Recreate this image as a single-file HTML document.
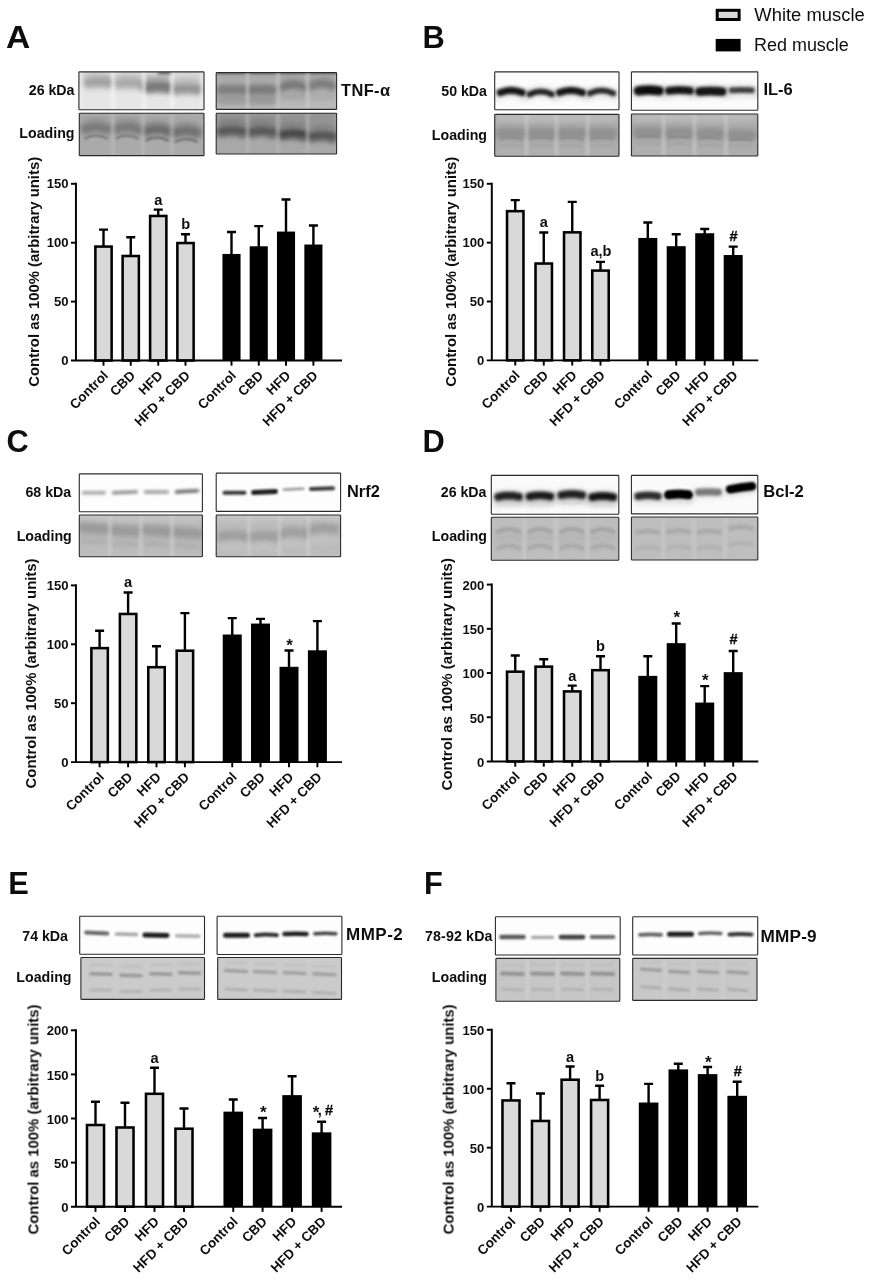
<!DOCTYPE html>
<html lang="en"><head><meta charset="utf-8"><title>Figure</title>
<style>
html,body{margin:0;padding:0;background:#fff}
body{width:871px;height:1283px;overflow:hidden}
svg{display:block}
svg text{font-family:'Liberation Sans', sans-serif;fill:#111}
</style></head><body>
<svg width="871" height="1283" viewBox="0 0 871 1283">
<defs>
<filter id="b1" filterUnits="userSpaceOnUse" x="0" y="0" width="871" height="1283"><feGaussianBlur stdDeviation="1"/></filter>
<filter id="b2" filterUnits="userSpaceOnUse" x="0" y="0" width="871" height="1283"><feGaussianBlur stdDeviation="1.6"/></filter>
<filter id="b3" filterUnits="userSpaceOnUse" x="0" y="0" width="871" height="1283"><feGaussianBlur stdDeviation="2.4"/></filter>
<filter id="b4" filterUnits="userSpaceOnUse" x="0" y="0" width="871" height="1283"><feGaussianBlur stdDeviation="3.5"/></filter>
<filter id="soft"><feGaussianBlur stdDeviation="0.6"/></filter>
</defs>
<rect width="871" height="1283" fill="#fff"/>
<g filter="url(#soft)">
<text transform="translate(6.0 47.6) scale(1.09 1)" font-size="30.8" font-weight="bold" fill="#000">A</text>
<text x="422.5" y="47.6" font-size="30.8" font-weight="bold" fill="#000">B</text>
<text x="6.6" y="451.5" font-size="30.8" font-weight="bold" fill="#000">C</text>
<text x="422.5" y="451.5" font-size="30.8" font-weight="bold" fill="#000">D</text>
<text x="8.25" y="894.2" font-size="30.8" font-weight="bold" fill="#000">E</text>
<text x="424.0" y="894.2" font-size="30.8" font-weight="bold" fill="#000">F</text>
<rect x="717.2" y="10.3" width="21.9" height="9.2" fill="#d9d9d9" stroke="#000" stroke-width="3"/>
<rect x="715.7" y="38.9" width="24.9" height="12.5" fill="#000"/>
<text x="754.3" y="21.3" font-size="18.3" textLength="110.4" lengthAdjust="spacingAndGlyphs">White muscle</text>
<text x="754.0" y="51.3" font-size="18.3" textLength="94.8" lengthAdjust="spacingAndGlyphs">Red muscle</text>
<path d="M103.50 246.58V229.61M99.00 229.61H108.00" stroke="#000" stroke-width="2.4" fill="none"/>
<rect x="95.38" y="246.58" width="16.25" height="113.92" fill="#d9d9d9" stroke="#000" stroke-width="2.55"/>
<path d="M103.50 360.50v5.2" stroke="#000" stroke-width="1.95"/>
<path d="M130.75 256.00V237.27M126.25 237.27H135.25" stroke="#000" stroke-width="2.4" fill="none"/>
<rect x="122.62" y="256.00" width="16.25" height="104.50" fill="#d9d9d9" stroke="#000" stroke-width="2.55"/>
<path d="M130.75 360.50v5.2" stroke="#000" stroke-width="1.95"/>
<path d="M158.25 215.95V209.59M153.75 209.59H162.75" stroke="#000" stroke-width="2.4" fill="none"/>
<rect x="150.12" y="215.95" width="16.25" height="144.55" fill="#d9d9d9" stroke="#000" stroke-width="2.55"/>
<path d="M158.25 360.50v5.2" stroke="#000" stroke-width="1.95"/>
<path d="M185.50 243.04V234.32M181.00 234.32H190.00" stroke="#000" stroke-width="2.4" fill="none"/>
<rect x="177.38" y="243.04" width="16.25" height="117.46" fill="#d9d9d9" stroke="#000" stroke-width="2.55"/>
<path d="M185.50 360.50v5.2" stroke="#000" stroke-width="1.95"/>
<path d="M231.50 254.82V231.97M227.00 231.97H236.00" stroke="#000" stroke-width="2.4" fill="none"/>
<rect x="222.45" y="253.95" width="18.10" height="106.55" fill="#000"/>
<path d="M231.50 360.50v5.2" stroke="#000" stroke-width="1.95"/>
<path d="M258.75 247.17V226.08M254.25 226.08H263.25" stroke="#000" stroke-width="2.4" fill="none"/>
<rect x="249.70" y="246.29" width="18.10" height="114.21" fill="#000"/>
<path d="M258.75 360.50v5.2" stroke="#000" stroke-width="1.95"/>
<path d="M286.00 232.44V199.57M281.50 199.57H290.50" stroke="#000" stroke-width="2.4" fill="none"/>
<rect x="276.95" y="231.57" width="18.10" height="128.93" fill="#000"/>
<path d="M286.00 360.50v5.2" stroke="#000" stroke-width="1.95"/>
<path d="M313.40 245.40V225.49M308.90 225.49H317.90" stroke="#000" stroke-width="2.4" fill="none"/>
<rect x="304.35" y="244.53" width="18.10" height="115.97" fill="#000"/>
<path d="M313.40 360.50v5.2" stroke="#000" stroke-width="1.95"/>
<path d="M75.95 182.72V360.50M70.95 360.50H342.00" stroke="#000" stroke-width="1.95" fill="none"/>
<text x="68.55" y="364.80" text-anchor="end" font-size="13.1" font-weight="bold">0</text>
<path d="M70.95 301.60H75.95" stroke="#000" stroke-width="1.95"/>
<text x="68.55" y="305.90" text-anchor="end" font-size="13.1" font-weight="bold">50</text>
<path d="M70.95 242.70H75.95" stroke="#000" stroke-width="1.95"/>
<text x="68.55" y="247.00" text-anchor="end" font-size="13.1" font-weight="bold">100</text>
<path d="M70.95 183.80H75.95" stroke="#000" stroke-width="1.95"/>
<text x="68.55" y="188.10" text-anchor="end" font-size="13.1" font-weight="bold">150</text>
<text transform="translate(38.80 271.85) rotate(-90)" text-anchor="middle" font-size="14.9" font-weight="bold">Control as 100% (arbitrary units)</text>
<text transform="translate(108.80 376.30) rotate(-45)" text-anchor="end" font-size="13.4" font-weight="bold">Control</text>
<text transform="translate(136.05 376.30) rotate(-45)" text-anchor="end" font-size="13.4" font-weight="bold">CBD</text>
<text transform="translate(163.55 376.30) rotate(-45)" text-anchor="end" font-size="13.4" font-weight="bold">HFD</text>
<text transform="translate(190.80 376.30) rotate(-45)" text-anchor="end" font-size="13.4" font-weight="bold">HFD + CBD</text>
<text transform="translate(236.80 376.30) rotate(-45)" text-anchor="end" font-size="13.4" font-weight="bold">Control</text>
<text transform="translate(264.05 376.30) rotate(-45)" text-anchor="end" font-size="13.4" font-weight="bold">CBD</text>
<text transform="translate(291.30 376.30) rotate(-45)" text-anchor="end" font-size="13.4" font-weight="bold">HFD</text>
<text transform="translate(318.70 376.30) rotate(-45)" text-anchor="end" font-size="13.4" font-weight="bold">HFD + CBD</text>
<text x="158.25" y="205.20" text-anchor="middle" font-size="14.6" font-weight="bold">a</text>
<text x="185.80" y="229.00" text-anchor="middle" font-size="14.6" font-weight="bold">b</text>
<path d="M515.25 211.16V200.09M510.75 200.09H519.75" stroke="#000" stroke-width="2.4" fill="none"/>
<rect x="507.02" y="211.16" width="16.45" height="149.19" fill="#d9d9d9" stroke="#000" stroke-width="2.55"/>
<path d="M515.25 360.35v5.2" stroke="#000" stroke-width="1.95"/>
<path d="M543.75 263.53V232.46M539.25 232.46H548.25" stroke="#000" stroke-width="2.4" fill="none"/>
<rect x="535.52" y="263.53" width="16.45" height="96.82" fill="#d9d9d9" stroke="#000" stroke-width="2.55"/>
<path d="M543.75 360.35v5.2" stroke="#000" stroke-width="1.95"/>
<path d="M572.25 232.34V201.86M567.75 201.86H576.75" stroke="#000" stroke-width="2.4" fill="none"/>
<rect x="564.02" y="232.34" width="16.45" height="128.01" fill="#d9d9d9" stroke="#000" stroke-width="2.55"/>
<path d="M572.25 360.35v5.2" stroke="#000" stroke-width="1.95"/>
<path d="M600.50 270.60V261.88M596.00 261.88H605.00" stroke="#000" stroke-width="2.4" fill="none"/>
<rect x="592.27" y="270.60" width="16.45" height="89.75" fill="#d9d9d9" stroke="#000" stroke-width="2.55"/>
<path d="M600.50 360.35v5.2" stroke="#000" stroke-width="1.95"/>
<path d="M647.80 238.82V222.45M643.30 222.45H652.30" stroke="#000" stroke-width="2.4" fill="none"/>
<rect x="638.30" y="237.94" width="19.00" height="122.41" fill="#000"/>
<path d="M647.80 360.35v5.2" stroke="#000" stroke-width="1.95"/>
<path d="M676.20 247.06V234.22M671.70 234.22H680.70" stroke="#000" stroke-width="2.4" fill="none"/>
<rect x="666.70" y="246.18" width="19.00" height="114.17" fill="#000"/>
<path d="M676.20 360.35v5.2" stroke="#000" stroke-width="1.95"/>
<path d="M704.70 234.11V228.93M700.20 228.93H709.20" stroke="#000" stroke-width="2.4" fill="none"/>
<rect x="695.20" y="233.23" width="19.00" height="127.12" fill="#000"/>
<path d="M704.70 360.35v5.2" stroke="#000" stroke-width="1.95"/>
<path d="M733.20 255.88V246.58M728.70 246.58H737.70" stroke="#000" stroke-width="2.4" fill="none"/>
<rect x="723.70" y="255.01" width="19.00" height="105.34" fill="#000"/>
<path d="M733.20 360.35v5.2" stroke="#000" stroke-width="1.95"/>
<path d="M491.80 182.72V360.35M486.80 360.35H758.30" stroke="#000" stroke-width="1.95" fill="none"/>
<text x="484.40" y="364.65" text-anchor="end" font-size="13.1" font-weight="bold">0</text>
<path d="M486.80 301.50H491.80" stroke="#000" stroke-width="1.95"/>
<text x="484.40" y="305.80" text-anchor="end" font-size="13.1" font-weight="bold">50</text>
<path d="M486.80 242.65H491.80" stroke="#000" stroke-width="1.95"/>
<text x="484.40" y="246.95" text-anchor="end" font-size="13.1" font-weight="bold">100</text>
<path d="M486.80 183.80H491.80" stroke="#000" stroke-width="1.95"/>
<text x="484.40" y="188.10" text-anchor="end" font-size="13.1" font-weight="bold">150</text>
<text transform="translate(455.50 271.78) rotate(-90)" text-anchor="middle" font-size="14.9" font-weight="bold">Control as 100% (arbitrary units)</text>
<text transform="translate(520.55 376.15) rotate(-45)" text-anchor="end" font-size="13.4" font-weight="bold">Control</text>
<text transform="translate(549.05 376.15) rotate(-45)" text-anchor="end" font-size="13.4" font-weight="bold">CBD</text>
<text transform="translate(577.55 376.15) rotate(-45)" text-anchor="end" font-size="13.4" font-weight="bold">HFD</text>
<text transform="translate(605.80 376.15) rotate(-45)" text-anchor="end" font-size="13.4" font-weight="bold">HFD + CBD</text>
<text transform="translate(653.10 376.15) rotate(-45)" text-anchor="end" font-size="13.4" font-weight="bold">Control</text>
<text transform="translate(681.50 376.15) rotate(-45)" text-anchor="end" font-size="13.4" font-weight="bold">CBD</text>
<text transform="translate(710.00 376.15) rotate(-45)" text-anchor="end" font-size="13.4" font-weight="bold">HFD</text>
<text transform="translate(738.50 376.15) rotate(-45)" text-anchor="end" font-size="13.4" font-weight="bold">HFD + CBD</text>
<text x="543.75" y="227.00" text-anchor="middle" font-size="14.6" font-weight="bold">a</text>
<text x="601.00" y="255.50" text-anchor="middle" font-size="14.6" font-weight="bold">a,b</text>
<text x="733.50" y="240.90" text-anchor="middle" font-size="14.6" font-weight="bold" stroke="#111" stroke-width="0.35">#</text>
<path d="M99.60 648.12V630.80M95.10 630.80H104.10" stroke="#000" stroke-width="2.4" fill="none"/>
<rect x="91.38" y="648.12" width="16.45" height="113.98" fill="#d9d9d9" stroke="#000" stroke-width="2.55"/>
<path d="M99.60 762.10v5.2" stroke="#000" stroke-width="1.95"/>
<path d="M128.10 613.96V592.51M123.60 592.51H132.60" stroke="#000" stroke-width="2.4" fill="none"/>
<rect x="119.88" y="613.96" width="16.45" height="148.14" fill="#d9d9d9" stroke="#000" stroke-width="2.55"/>
<path d="M128.10 762.10v5.2" stroke="#000" stroke-width="1.95"/>
<path d="M156.50 667.20V646.23M152.00 646.23H161.00" stroke="#000" stroke-width="2.4" fill="none"/>
<rect x="148.28" y="667.20" width="16.45" height="94.90" fill="#d9d9d9" stroke="#000" stroke-width="2.55"/>
<path d="M156.50 762.10v5.2" stroke="#000" stroke-width="1.95"/>
<path d="M184.90 650.71V613.13M180.40 613.13H189.40" stroke="#000" stroke-width="2.4" fill="none"/>
<rect x="176.68" y="650.71" width="16.45" height="111.39" fill="#d9d9d9" stroke="#000" stroke-width="2.55"/>
<path d="M184.90 762.10v5.2" stroke="#000" stroke-width="1.95"/>
<path d="M232.25 635.40V618.08M227.75 618.08H236.75" stroke="#000" stroke-width="2.4" fill="none"/>
<rect x="222.75" y="634.52" width="19.00" height="127.58" fill="#000"/>
<path d="M232.25 762.10v5.2" stroke="#000" stroke-width="1.95"/>
<path d="M260.50 624.44V618.90M256.00 618.90H265.00" stroke="#000" stroke-width="2.4" fill="none"/>
<rect x="251.00" y="623.57" width="19.00" height="138.53" fill="#000"/>
<path d="M260.50 762.10v5.2" stroke="#000" stroke-width="1.95"/>
<path d="M289.00 667.67V650.47M284.50 650.47H293.50" stroke="#000" stroke-width="2.4" fill="none"/>
<rect x="279.50" y="666.80" width="19.00" height="95.30" fill="#000"/>
<path d="M289.00 762.10v5.2" stroke="#000" stroke-width="1.95"/>
<path d="M317.40 651.18V621.14M312.90 621.14H321.90" stroke="#000" stroke-width="2.4" fill="none"/>
<rect x="307.90" y="650.31" width="19.00" height="111.79" fill="#000"/>
<path d="M317.40 762.10v5.2" stroke="#000" stroke-width="1.95"/>
<path d="M75.95 584.33V762.10M70.95 762.10H342.00" stroke="#000" stroke-width="1.95" fill="none"/>
<text x="68.55" y="767.10" text-anchor="end" font-size="13.1" font-weight="bold">0</text>
<path d="M70.95 703.20H75.95" stroke="#000" stroke-width="1.95"/>
<text x="68.55" y="708.20" text-anchor="end" font-size="13.1" font-weight="bold">50</text>
<path d="M70.95 644.30H75.95" stroke="#000" stroke-width="1.95"/>
<text x="68.55" y="649.30" text-anchor="end" font-size="13.1" font-weight="bold">100</text>
<path d="M70.95 585.40H75.95" stroke="#000" stroke-width="1.95"/>
<text x="68.55" y="590.40" text-anchor="end" font-size="13.1" font-weight="bold">150</text>
<text transform="translate(36.00 673.45) rotate(-90)" text-anchor="middle" font-size="14.9" font-weight="bold">Control as 100% (arbitrary units)</text>
<text transform="translate(104.90 777.90) rotate(-45)" text-anchor="end" font-size="13.4" font-weight="bold">Control</text>
<text transform="translate(133.40 777.90) rotate(-45)" text-anchor="end" font-size="13.4" font-weight="bold">CBD</text>
<text transform="translate(161.80 777.90) rotate(-45)" text-anchor="end" font-size="13.4" font-weight="bold">HFD</text>
<text transform="translate(190.20 777.90) rotate(-45)" text-anchor="end" font-size="13.4" font-weight="bold">HFD + CBD</text>
<text transform="translate(237.55 777.90) rotate(-45)" text-anchor="end" font-size="13.4" font-weight="bold">Control</text>
<text transform="translate(265.80 777.90) rotate(-45)" text-anchor="end" font-size="13.4" font-weight="bold">CBD</text>
<text transform="translate(294.30 777.90) rotate(-45)" text-anchor="end" font-size="13.4" font-weight="bold">HFD</text>
<text transform="translate(322.70 777.90) rotate(-45)" text-anchor="end" font-size="13.4" font-weight="bold">HFD + CBD</text>
<text x="128.10" y="587.00" text-anchor="middle" font-size="14.6" font-weight="bold">a</text>
<text x="289.50" y="651.00" text-anchor="middle" font-size="17" font-weight="bold">*</text>
<path d="M515.25 671.69V655.56M510.75 655.56H519.75" stroke="#000" stroke-width="2.4" fill="none"/>
<rect x="507.02" y="671.69" width="16.45" height="89.76" fill="#d9d9d9" stroke="#000" stroke-width="2.55"/>
<path d="M515.25 761.45v5.2" stroke="#000" stroke-width="1.95"/>
<path d="M543.75 666.65V659.28M539.25 659.28H548.25" stroke="#000" stroke-width="2.4" fill="none"/>
<rect x="535.52" y="666.65" width="16.45" height="94.80" fill="#d9d9d9" stroke="#000" stroke-width="2.55"/>
<path d="M543.75 761.45v5.2" stroke="#000" stroke-width="1.95"/>
<path d="M572.25 691.41V685.63M567.75 685.63H576.75" stroke="#000" stroke-width="2.4" fill="none"/>
<rect x="564.02" y="691.41" width="16.45" height="70.04" fill="#d9d9d9" stroke="#000" stroke-width="2.55"/>
<path d="M572.25 761.45v5.2" stroke="#000" stroke-width="1.95"/>
<path d="M600.50 670.19V656.18M596.00 656.18H605.00" stroke="#000" stroke-width="2.4" fill="none"/>
<rect x="592.27" y="670.19" width="16.45" height="91.26" fill="#d9d9d9" stroke="#000" stroke-width="2.55"/>
<path d="M600.50 761.45v5.2" stroke="#000" stroke-width="1.95"/>
<path d="M647.80 676.73V656.27M643.30 656.27H652.30" stroke="#000" stroke-width="2.4" fill="none"/>
<rect x="638.30" y="675.85" width="19.00" height="85.60" fill="#000"/>
<path d="M647.80 761.45v5.2" stroke="#000" stroke-width="1.95"/>
<path d="M676.20 644.01V623.55M671.70 623.55H680.70" stroke="#000" stroke-width="2.4" fill="none"/>
<rect x="666.70" y="643.14" width="19.00" height="118.31" fill="#000"/>
<path d="M676.20 761.45v5.2" stroke="#000" stroke-width="1.95"/>
<path d="M704.70 703.43V686.16M700.20 686.16H709.20" stroke="#000" stroke-width="2.4" fill="none"/>
<rect x="695.20" y="702.56" width="19.00" height="58.89" fill="#000"/>
<path d="M704.70 761.45v5.2" stroke="#000" stroke-width="1.95"/>
<path d="M733.20 673.02V651.05M728.70 651.05H737.70" stroke="#000" stroke-width="2.4" fill="none"/>
<rect x="723.70" y="672.14" width="19.00" height="89.31" fill="#000"/>
<path d="M733.20 761.45v5.2" stroke="#000" stroke-width="1.95"/>
<path d="M491.80 583.53V761.45M486.80 761.45H758.30" stroke="#000" stroke-width="1.95" fill="none"/>
<text x="484.40" y="766.75" text-anchor="end" font-size="13.1" font-weight="bold">0</text>
<path d="M486.80 717.24H491.80" stroke="#000" stroke-width="1.95"/>
<text x="484.40" y="722.54" text-anchor="end" font-size="13.1" font-weight="bold">50</text>
<path d="M486.80 673.03H491.80" stroke="#000" stroke-width="1.95"/>
<text x="484.40" y="678.33" text-anchor="end" font-size="13.1" font-weight="bold">100</text>
<path d="M486.80 628.81H491.80" stroke="#000" stroke-width="1.95"/>
<text x="484.40" y="634.11" text-anchor="end" font-size="13.1" font-weight="bold">150</text>
<path d="M486.80 584.60H491.80" stroke="#000" stroke-width="1.95"/>
<text x="484.40" y="589.90" text-anchor="end" font-size="13.1" font-weight="bold">200</text>
<text transform="translate(452.00 674.23) rotate(-90)" text-anchor="middle" font-size="15.05" font-weight="bold">Control as 100% (arbitrary units)</text>
<text transform="translate(520.55 777.25) rotate(-45)" text-anchor="end" font-size="13.4" font-weight="bold">Control</text>
<text transform="translate(549.05 777.25) rotate(-45)" text-anchor="end" font-size="13.4" font-weight="bold">CBD</text>
<text transform="translate(577.55 777.25) rotate(-45)" text-anchor="end" font-size="13.4" font-weight="bold">HFD</text>
<text transform="translate(605.80 777.25) rotate(-45)" text-anchor="end" font-size="13.4" font-weight="bold">HFD + CBD</text>
<text transform="translate(653.10 777.25) rotate(-45)" text-anchor="end" font-size="13.4" font-weight="bold">Control</text>
<text transform="translate(681.50 777.25) rotate(-45)" text-anchor="end" font-size="13.4" font-weight="bold">CBD</text>
<text transform="translate(710.00 777.25) rotate(-45)" text-anchor="end" font-size="13.4" font-weight="bold">HFD</text>
<text transform="translate(738.50 777.25) rotate(-45)" text-anchor="end" font-size="13.4" font-weight="bold">HFD + CBD</text>
<text x="572.25" y="680.50" text-anchor="middle" font-size="14.6" font-weight="bold">a</text>
<text x="600.50" y="651.00" text-anchor="middle" font-size="14.6" font-weight="bold">b</text>
<text x="676.70" y="623.00" text-anchor="middle" font-size="17" font-weight="bold">*</text>
<text x="705.20" y="686.00" text-anchor="middle" font-size="17" font-weight="bold">*</text>
<text x="733.50" y="644.40" text-anchor="middle" font-size="14.6" font-weight="bold" stroke="#111" stroke-width="0.35">#</text>
<path d="M95.50 1125.02V1101.79M91.00 1101.79H100.00" stroke="#000" stroke-width="2.4" fill="none"/>
<rect x="86.98" y="1125.02" width="17.05" height="81.68" fill="#d9d9d9" stroke="#000" stroke-width="2.55"/>
<path d="M95.50 1206.70v5.2" stroke="#000" stroke-width="1.95"/>
<path d="M125.00 1127.49V1102.76M120.50 1102.76H129.50" stroke="#000" stroke-width="2.4" fill="none"/>
<rect x="116.48" y="1127.49" width="17.05" height="79.21" fill="#d9d9d9" stroke="#000" stroke-width="2.55"/>
<path d="M125.00 1206.70v5.2" stroke="#000" stroke-width="1.95"/>
<path d="M154.50 1093.80V1067.74M150.00 1067.74H159.00" stroke="#000" stroke-width="2.4" fill="none"/>
<rect x="145.97" y="1093.80" width="17.05" height="112.90" fill="#d9d9d9" stroke="#000" stroke-width="2.55"/>
<path d="M154.50 1206.70v5.2" stroke="#000" stroke-width="1.95"/>
<path d="M184.00 1128.72V1108.49M179.50 1108.49H188.50" stroke="#000" stroke-width="2.4" fill="none"/>
<rect x="175.47" y="1128.72" width="17.05" height="77.98" fill="#d9d9d9" stroke="#000" stroke-width="2.55"/>
<path d="M184.00 1206.70v5.2" stroke="#000" stroke-width="1.95"/>
<path d="M233.25 1112.50V1099.50M228.75 1099.50H237.75" stroke="#000" stroke-width="2.4" fill="none"/>
<rect x="223.45" y="1111.62" width="19.60" height="95.08" fill="#000"/>
<path d="M233.25 1206.70v5.2" stroke="#000" stroke-width="1.95"/>
<path d="M262.60 1129.52V1118.02M258.10 1118.02H267.10" stroke="#000" stroke-width="2.4" fill="none"/>
<rect x="252.80" y="1128.64" width="19.60" height="78.06" fill="#000"/>
<path d="M262.60 1206.70v5.2" stroke="#000" stroke-width="1.95"/>
<path d="M292.10 1096.00V1076.21M287.60 1076.21H296.60" stroke="#000" stroke-width="2.4" fill="none"/>
<rect x="282.30" y="1095.13" width="19.60" height="111.57" fill="#000"/>
<path d="M292.10 1206.70v5.2" stroke="#000" stroke-width="1.95"/>
<path d="M321.60 1133.22V1121.81M317.10 1121.81H326.10" stroke="#000" stroke-width="2.4" fill="none"/>
<rect x="311.80" y="1132.35" width="19.60" height="74.35" fill="#000"/>
<path d="M321.60 1206.70v5.2" stroke="#000" stroke-width="1.95"/>
<path d="M75.95 1029.22V1206.70M70.95 1206.70H342.00" stroke="#000" stroke-width="1.95" fill="none"/>
<text x="68.55" y="1211.80" text-anchor="end" font-size="13.1" font-weight="bold">0</text>
<path d="M70.95 1162.60H75.95" stroke="#000" stroke-width="1.95"/>
<text x="68.55" y="1167.70" text-anchor="end" font-size="13.1" font-weight="bold">50</text>
<path d="M70.95 1118.50H75.95" stroke="#000" stroke-width="1.95"/>
<text x="68.55" y="1123.60" text-anchor="end" font-size="13.1" font-weight="bold">100</text>
<path d="M70.95 1074.40H75.95" stroke="#000" stroke-width="1.95"/>
<text x="68.55" y="1079.50" text-anchor="end" font-size="13.1" font-weight="bold">150</text>
<path d="M70.95 1030.30H75.95" stroke="#000" stroke-width="1.95"/>
<text x="68.55" y="1035.40" text-anchor="end" font-size="13.1" font-weight="bold">200</text>
<text transform="translate(38.40 1119.50) rotate(-90)" text-anchor="middle" font-size="14.9" font-weight="bold">Control as 100% (arbitrary units)</text>
<text transform="translate(100.80 1222.50) rotate(-45)" text-anchor="end" font-size="13.4" font-weight="bold">Control</text>
<text transform="translate(130.30 1222.50) rotate(-45)" text-anchor="end" font-size="13.4" font-weight="bold">CBD</text>
<text transform="translate(159.80 1222.50) rotate(-45)" text-anchor="end" font-size="13.4" font-weight="bold">HFD</text>
<text transform="translate(189.30 1222.50) rotate(-45)" text-anchor="end" font-size="13.4" font-weight="bold">HFD + CBD</text>
<text transform="translate(238.55 1222.50) rotate(-45)" text-anchor="end" font-size="13.4" font-weight="bold">Control</text>
<text transform="translate(267.90 1222.50) rotate(-45)" text-anchor="end" font-size="13.4" font-weight="bold">CBD</text>
<text transform="translate(297.40 1222.50) rotate(-45)" text-anchor="end" font-size="13.4" font-weight="bold">HFD</text>
<text transform="translate(326.90 1222.50) rotate(-45)" text-anchor="end" font-size="13.4" font-weight="bold">HFD + CBD</text>
<text x="154.50" y="1062.50" text-anchor="middle" font-size="14.6" font-weight="bold">a</text>
<text x="263.20" y="1118.00" text-anchor="middle" font-size="17" font-weight="bold">*</text>
<text x="316.10" y="1118.00" text-anchor="middle" font-size="17" font-weight="bold">*</text>
<text x="319.80" y="1115.30" text-anchor="middle" font-size="14.6" font-weight="bold">,</text>
<text x="329.00" y="1114.50" text-anchor="middle" font-size="14.6" font-weight="bold" stroke="#111" stroke-width="0.35">#</text>
<path d="M511.00 1100.45V1083.24M506.50 1083.24H515.50" stroke="#000" stroke-width="2.4" fill="none"/>
<rect x="502.47" y="1100.45" width="17.05" height="106.15" fill="#d9d9d9" stroke="#000" stroke-width="2.55"/>
<path d="M511.00 1206.60v5.2" stroke="#000" stroke-width="1.95"/>
<path d="M540.50 1120.96V1093.49M536.00 1093.49H545.00" stroke="#000" stroke-width="2.4" fill="none"/>
<rect x="531.98" y="1120.96" width="17.05" height="85.64" fill="#d9d9d9" stroke="#000" stroke-width="2.55"/>
<path d="M540.50 1206.60v5.2" stroke="#000" stroke-width="1.95"/>
<path d="M570.10 1079.71V1066.50M565.60 1066.50H574.60" stroke="#000" stroke-width="2.4" fill="none"/>
<rect x="561.58" y="1079.71" width="17.05" height="126.89" fill="#d9d9d9" stroke="#000" stroke-width="2.55"/>
<path d="M570.10 1206.60v5.2" stroke="#000" stroke-width="1.95"/>
<path d="M599.60 1099.98V1085.72M595.10 1085.72H604.10" stroke="#000" stroke-width="2.4" fill="none"/>
<rect x="591.08" y="1099.98" width="17.05" height="106.62" fill="#d9d9d9" stroke="#000" stroke-width="2.55"/>
<path d="M599.60 1206.60v5.2" stroke="#000" stroke-width="1.95"/>
<path d="M648.60 1103.40V1083.83M644.10 1083.83H653.10" stroke="#000" stroke-width="2.4" fill="none"/>
<rect x="638.80" y="1102.52" width="19.60" height="104.08" fill="#000"/>
<path d="M648.60 1206.60v5.2" stroke="#000" stroke-width="1.95"/>
<path d="M678.30 1070.28V1063.79M673.80 1063.79H682.80" stroke="#000" stroke-width="2.4" fill="none"/>
<rect x="668.50" y="1069.40" width="19.60" height="137.20" fill="#000"/>
<path d="M678.30 1206.60v5.2" stroke="#000" stroke-width="1.95"/>
<path d="M707.60 1074.99V1066.97M703.10 1066.97H712.10" stroke="#000" stroke-width="2.4" fill="none"/>
<rect x="697.80" y="1074.12" width="19.60" height="132.48" fill="#000"/>
<path d="M707.60 1206.60v5.2" stroke="#000" stroke-width="1.95"/>
<path d="M737.20 1096.68V1081.71M732.70 1081.71H741.70" stroke="#000" stroke-width="2.4" fill="none"/>
<rect x="727.40" y="1095.81" width="19.60" height="110.79" fill="#000"/>
<path d="M737.20 1206.60v5.2" stroke="#000" stroke-width="1.95"/>
<path d="M491.80 1028.72V1206.60M486.80 1206.60H758.30" stroke="#000" stroke-width="1.95" fill="none"/>
<text x="484.40" y="1211.80" text-anchor="end" font-size="13.1" font-weight="bold">0</text>
<path d="M486.80 1147.67H491.80" stroke="#000" stroke-width="1.95"/>
<text x="484.40" y="1152.87" text-anchor="end" font-size="13.1" font-weight="bold">50</text>
<path d="M486.80 1088.73H491.80" stroke="#000" stroke-width="1.95"/>
<text x="484.40" y="1093.93" text-anchor="end" font-size="13.1" font-weight="bold">100</text>
<path d="M486.80 1029.80H491.80" stroke="#000" stroke-width="1.95"/>
<text x="484.40" y="1035.00" text-anchor="end" font-size="13.1" font-weight="bold">150</text>
<text transform="translate(453.60 1119.40) rotate(-90)" text-anchor="middle" font-size="14.9" font-weight="bold">Control as 100% (arbitrary units)</text>
<text transform="translate(516.30 1222.40) rotate(-45)" text-anchor="end" font-size="13.4" font-weight="bold">Control</text>
<text transform="translate(545.80 1222.40) rotate(-45)" text-anchor="end" font-size="13.4" font-weight="bold">CBD</text>
<text transform="translate(575.40 1222.40) rotate(-45)" text-anchor="end" font-size="13.4" font-weight="bold">HFD</text>
<text transform="translate(604.90 1222.40) rotate(-45)" text-anchor="end" font-size="13.4" font-weight="bold">HFD + CBD</text>
<text transform="translate(653.90 1222.40) rotate(-45)" text-anchor="end" font-size="13.4" font-weight="bold">Control</text>
<text transform="translate(683.60 1222.40) rotate(-45)" text-anchor="end" font-size="13.4" font-weight="bold">CBD</text>
<text transform="translate(712.90 1222.40) rotate(-45)" text-anchor="end" font-size="13.4" font-weight="bold">HFD</text>
<text transform="translate(742.50 1222.40) rotate(-45)" text-anchor="end" font-size="13.4" font-weight="bold">HFD + CBD</text>
<text x="570.10" y="1062.00" text-anchor="middle" font-size="14.6" font-weight="bold">a</text>
<text x="599.60" y="1081.00" text-anchor="middle" font-size="14.6" font-weight="bold">b</text>
<text x="708.30" y="1067.50" text-anchor="middle" font-size="17" font-weight="bold">*</text>
<text x="737.70" y="1076.40" text-anchor="middle" font-size="14.6" font-weight="bold" stroke="#111" stroke-width="0.35">#</text>
<text x="74.5" y="95.3" text-anchor="end" font-size="14.2" font-weight="bold">26 kDa</text>
<text x="74.5" y="137.5" text-anchor="end" font-size="14.2" font-weight="bold">Loading</text>
<text x="487.0" y="96.3" text-anchor="end" font-size="14.2" font-weight="bold">50 kDa</text>
<text x="487.0" y="139.8" text-anchor="end" font-size="14.2" font-weight="bold">Loading</text>
<text x="71.2" y="497.0" text-anchor="end" font-size="14.2" font-weight="bold">68 kDa</text>
<text x="71.8" y="541.0" text-anchor="end" font-size="14.2" font-weight="bold">Loading</text>
<text x="486.5" y="497.0" text-anchor="end" font-size="14.2" font-weight="bold">26 kDa</text>
<text x="487.0" y="541.2" text-anchor="end" font-size="14.2" font-weight="bold">Loading</text>
<text x="68.0" y="940.7" text-anchor="end" font-size="14.2" font-weight="bold">74 kDa</text>
<text x="71.5" y="982.0" text-anchor="end" font-size="14.2" font-weight="bold">Loading</text>
<text x="492.6" y="941.0" text-anchor="end" font-size="14.2" font-weight="bold" letter-spacing="0.15">78-92 kDa</text>
<text x="487.0" y="982.2" text-anchor="end" font-size="14.2" font-weight="bold">Loading</text>
<text x="341.0" y="96.4" text-anchor="start" font-size="16.4" font-weight="bold" letter-spacing="0.4">TNF-α</text>
<text x="763.4" y="95.3" text-anchor="start" font-size="16.5" font-weight="bold">IL-6</text>
<text x="347.0" y="496.8" text-anchor="start" font-size="16.4" font-weight="bold">Nrf2</text>
<text x="763.2" y="496.8" text-anchor="start" font-size="16.6" font-weight="bold">Bcl-2</text>
<text x="346.0" y="940.1" text-anchor="start" font-size="17" font-weight="bold" letter-spacing="0.5">MMP-2</text>
<text x="760.5" y="941.9" text-anchor="start" font-size="17.2" font-weight="bold" letter-spacing="0.2">MMP-9</text>
<clipPath id="c1"><rect x="78.90" y="71.90" width="125.10" height="37.80" rx="0.7"/></clipPath>
<rect x="78.90" y="71.90" width="125.10" height="37.80" rx="0.7" fill="#e6e6e6"/>
<g clip-path="url(#c1)">
<rect x="78.9" y="67.9" width="125.1" height="20.0" fill="#cdcdcd" opacity="0.6" filter="url(#b4)"/>
<path d="M89.0 82.5Q99.0 80.5 109.0 82.5" fill="none" stroke="#8c8c8c" stroke-width="11" stroke-linecap="round" opacity="0.7" filter="url(#b3)"/>
<path d="M119.5 83.5Q129.0 81.5 138.5 83.5" fill="none" stroke="#949494" stroke-width="11" stroke-linecap="round" opacity="0.68" filter="url(#b3)"/>
<path d="M147.5 87.5Q157.5 85.5 167.5 87.5" fill="none" stroke="#696969" stroke-width="12" stroke-linecap="round" opacity="0.85" filter="url(#b3)"/>
<path d="M175.6 89.5Q186.6 87.5 197.6 89.5" fill="none" stroke="#848484" stroke-width="11" stroke-linecap="round" opacity="0.8" filter="url(#b3)"/>
<path d="M159.0 73.0Q165.0 73.0 171.0 73.0" fill="none" stroke="#3c3c3c" stroke-width="3" stroke-linecap="round" opacity="0.8" filter="url(#b2)"/>
<path d="M89.0 76.0Q99.0 76.0 109.0 76.0" fill="none" stroke="#b4b4b4" stroke-width="4" stroke-linecap="round" opacity="0.5" filter="url(#b3)"/>
<path d="M119.0 77.0Q129.0 77.0 139.0 77.0" fill="none" stroke="#b4b4b4" stroke-width="4" stroke-linecap="round" opacity="0.5" filter="url(#b3)"/>
<path d="M147.0 79.0Q157.0 79.0 167.0 79.0" fill="none" stroke="#8c8c8c" stroke-width="6" stroke-linecap="round" opacity="0.55" filter="url(#b3)"/>
<path d="M176.0 81.0Q186.0 81.0 196.0 81.0" fill="none" stroke="#aaaaaa" stroke-width="6" stroke-linecap="round" opacity="0.5" filter="url(#b3)"/>
<rect x="111.0" y="65.9" width="4" height="49.8" fill="#f8f8f8" opacity="0.6" filter="url(#b2)"/>
<rect x="142.0" y="65.9" width="4" height="49.8" fill="#f8f8f8" opacity="0.6" filter="url(#b2)"/>
<rect x="170.0" y="65.9" width="4" height="49.8" fill="#f8f8f8" opacity="0.6" filter="url(#b2)"/>
<rect x="200.5" y="65.9" width="3" height="49.8" fill="#fafafa" opacity="0.5" filter="url(#b2)"/>
<rect x="79.5" y="65.9" width="3" height="49.8" fill="#fafafa" opacity="0.4" filter="url(#b2)"/>
</g>
<rect x="78.90" y="71.90" width="125.10" height="37.80" rx="0.7" fill="none" stroke="#2b2b2b" stroke-width="1.1"/>
<clipPath id="c2"><rect x="79.30" y="113.30" width="124.70" height="42.30" rx="0.7"/></clipPath>
<rect x="79.30" y="113.30" width="124.70" height="42.30" rx="0.7" fill="#aaaaaa"/>
<g clip-path="url(#c2)">
<path d="M85.5 129.0Q96.0 124.0 106.5 129.0" fill="none" stroke="#707070" stroke-width="11" stroke-linecap="round" opacity="0.8" filter="url(#b3)"/>
<path d="M85.0 138.3Q96.0 132.7 107.0 138.3" fill="none" stroke="#616161" stroke-width="2" stroke-linecap="round" opacity="0.75" filter="url(#b1)"/>
<path d="M87.0 121.5Q96.0 119.5 105.0 121.5" fill="none" stroke="#8c8c8c" stroke-width="6" stroke-linecap="round" opacity="0.5" filter="url(#b3)"/>
<path d="M116.5 129.0Q127.0 124.0 137.5 129.0" fill="none" stroke="#707070" stroke-width="11" stroke-linecap="round" opacity="0.8" filter="url(#b3)"/>
<path d="M116.0 138.3Q127.0 132.7 138.0 138.3" fill="none" stroke="#616161" stroke-width="2" stroke-linecap="round" opacity="0.75" filter="url(#b1)"/>
<path d="M118.0 121.5Q127.0 119.5 136.0 121.5" fill="none" stroke="#8c8c8c" stroke-width="6" stroke-linecap="round" opacity="0.5" filter="url(#b3)"/>
<path d="M146.5 131.0Q157.0 126.0 167.5 131.0" fill="none" stroke="#5f5f5f" stroke-width="11" stroke-linecap="round" opacity="0.8" filter="url(#b3)"/>
<path d="M146.0 140.3Q157.0 134.7 168.0 140.3" fill="none" stroke="#505050" stroke-width="2" stroke-linecap="round" opacity="0.75" filter="url(#b1)"/>
<path d="M148.0 123.5Q157.0 121.5 166.0 123.5" fill="none" stroke="#8c8c8c" stroke-width="6" stroke-linecap="round" opacity="0.5" filter="url(#b3)"/>
<path d="M175.5 132.5Q186.0 127.5 196.5 132.5" fill="none" stroke="#646464" stroke-width="11" stroke-linecap="round" opacity="0.8" filter="url(#b3)"/>
<path d="M175.0 141.8Q186.0 136.2 197.0 141.8" fill="none" stroke="#555555" stroke-width="2" stroke-linecap="round" opacity="0.75" filter="url(#b1)"/>
<path d="M177.0 125.0Q186.0 123.0 195.0 125.0" fill="none" stroke="#8c8c8c" stroke-width="6" stroke-linecap="round" opacity="0.5" filter="url(#b3)"/>
<rect x="111.0" y="107.3" width="4" height="54.3" fill="#bebebe" opacity="0.55" filter="url(#b2)"/>
<rect x="141.0" y="107.3" width="4" height="54.3" fill="#bebebe" opacity="0.5" filter="url(#b2)"/>
<rect x="170.0" y="107.3" width="4" height="54.3" fill="#bebebe" opacity="0.5" filter="url(#b2)"/>
</g>
<rect x="79.30" y="113.30" width="124.70" height="42.30" rx="0.7" fill="none" stroke="#2b2b2b" stroke-width="1.1"/>
<clipPath id="c3"><rect x="216.20" y="72.50" width="120.40" height="36.90" rx="0.7"/></clipPath>
<rect x="216.20" y="72.50" width="120.40" height="36.90" rx="0.7" fill="#bababa"/>
<g clip-path="url(#c3)">
<rect x="216.2" y="68.5" width="120.4" height="14.0" fill="#a0a0a0" opacity="0.7" filter="url(#b4)"/>
<rect x="216.2" y="70.5" width="120.4" height="3.5" fill="#3c3c3c" opacity="0.8" filter="url(#b1)"/>
<path d="M221.0 90.0Q232.0 89.0 243.0 90.0" fill="none" stroke="#707070" stroke-width="11" stroke-linecap="round" opacity="0.8" filter="url(#b3)"/>
<path d="M251.0 90.0Q262.0 89.0 273.0 90.0" fill="none" stroke="#6c6c6c" stroke-width="11" stroke-linecap="round" opacity="0.8" filter="url(#b3)"/>
<path d="M283.0 87.0Q293.0 82.0 303.0 87.0" fill="none" stroke="#6c6c6c" stroke-width="10" stroke-linecap="round" opacity="0.8" filter="url(#b3)"/>
<path d="M312.0 86.0Q322.0 81.0 332.0 86.0" fill="none" stroke="#707070" stroke-width="10" stroke-linecap="round" opacity="0.8" filter="url(#b3)"/>
<path d="M221.0 100.0Q232.0 100.0 243.0 100.0" fill="none" stroke="#8c8c8c" stroke-width="10" stroke-linecap="round" opacity="0.65" filter="url(#b3)"/>
<path d="M251.0 100.0Q262.0 100.0 273.0 100.0" fill="none" stroke="#878787" stroke-width="10" stroke-linecap="round" opacity="0.65" filter="url(#b3)"/>
<path d="M283.0 96.0Q293.0 96.0 303.0 96.0" fill="none" stroke="#969696" stroke-width="9" stroke-linecap="round" opacity="0.55" filter="url(#b3)"/>
<path d="M312.0 96.0Q322.0 96.0 332.0 96.0" fill="none" stroke="#a0a0a0" stroke-width="9" stroke-linecap="round" opacity="0.5" filter="url(#b3)"/>
<rect x="245.8" y="66.5" width="3.5" height="48.9" fill="#cdcdcd" opacity="0.6" filter="url(#b2)"/>
<rect x="276.2" y="66.5" width="3.5" height="48.9" fill="#cdcdcd" opacity="0.6" filter="url(#b2)"/>
<rect x="305.8" y="66.5" width="3.5" height="48.9" fill="#cdcdcd" opacity="0.6" filter="url(#b2)"/>
</g>
<rect x="216.20" y="72.50" width="120.40" height="36.90" rx="0.7" fill="none" stroke="#2b2b2b" stroke-width="1.1"/>
<clipPath id="c4"><rect x="216.20" y="113.30" width="120.40" height="40.70" rx="0.7"/></clipPath>
<rect x="216.20" y="113.30" width="120.40" height="40.70" rx="0.7" fill="#a8a8a8"/>
<g clip-path="url(#c4)">
<rect x="216.2" y="109.3" width="120.4" height="16.0" fill="#8c8c8c" opacity="0.7" filter="url(#b4)"/>
<path d="M221.5 131.5Q232.0 128.5 242.5 131.5" fill="none" stroke="#4b4b4b" stroke-width="11" stroke-linecap="round" opacity="0.85" filter="url(#b3)"/>
<path d="M222.0 123.0Q232.0 121.0 242.0 123.0" fill="none" stroke="#787878" stroke-width="8" stroke-linecap="round" opacity="0.55" filter="url(#b3)"/>
<path d="M240.5 136.0Q241.5 136.0 242.5 136.0" fill="none" stroke="#6e6e6e" stroke-width="6" stroke-linecap="round" opacity="0.3" filter="url(#b2)"/>
<path d="M251.5 132.0Q262.0 129.0 272.5 132.0" fill="none" stroke="#4b4b4b" stroke-width="11" stroke-linecap="round" opacity="0.85" filter="url(#b3)"/>
<path d="M252.0 123.5Q262.0 121.5 272.0 123.5" fill="none" stroke="#787878" stroke-width="8" stroke-linecap="round" opacity="0.55" filter="url(#b3)"/>
<path d="M270.5 136.5Q271.5 136.5 272.5 136.5" fill="none" stroke="#6e6e6e" stroke-width="6" stroke-linecap="round" opacity="0.3" filter="url(#b2)"/>
<path d="M282.5 134.5Q293.0 131.5 303.5 134.5" fill="none" stroke="#373737" stroke-width="11" stroke-linecap="round" opacity="0.85" filter="url(#b3)"/>
<path d="M283.0 126.0Q293.0 124.0 303.0 126.0" fill="none" stroke="#787878" stroke-width="8" stroke-linecap="round" opacity="0.55" filter="url(#b3)"/>
<path d="M301.5 139.0Q302.5 139.0 303.5 139.0" fill="none" stroke="#6e6e6e" stroke-width="6" stroke-linecap="round" opacity="0.3" filter="url(#b2)"/>
<path d="M311.5 136.5Q322.0 133.5 332.5 136.5" fill="none" stroke="#484848" stroke-width="11" stroke-linecap="round" opacity="0.85" filter="url(#b3)"/>
<path d="M312.0 128.0Q322.0 126.0 332.0 128.0" fill="none" stroke="#787878" stroke-width="8" stroke-linecap="round" opacity="0.55" filter="url(#b3)"/>
<path d="M330.5 141.0Q331.5 141.0 332.5 141.0" fill="none" stroke="#6e6e6e" stroke-width="6" stroke-linecap="round" opacity="0.3" filter="url(#b2)"/>
<rect x="245.8" y="107.3" width="3.5" height="52.7" fill="#bebebe" opacity="0.55" filter="url(#b2)"/>
<rect x="276.2" y="107.3" width="3.5" height="52.7" fill="#bebebe" opacity="0.55" filter="url(#b2)"/>
<rect x="305.8" y="107.3" width="3.5" height="52.7" fill="#bebebe" opacity="0.55" filter="url(#b2)"/>
</g>
<rect x="216.20" y="113.30" width="120.40" height="40.70" rx="0.7" fill="none" stroke="#2b2b2b" stroke-width="1.1"/>
<clipPath id="c5"><rect x="494.70" y="71.90" width="124.30" height="37.80" rx="0.7"/></clipPath>
<rect x="494.70" y="71.90" width="124.30" height="37.80" rx="0.7" fill="#fcfcfc"/>
<g clip-path="url(#c5)">
<path d="M498.2 94.5Q511.2 89.5 524.2 94.5" fill="none" stroke="#bebebe" stroke-width="12" stroke-linecap="round" opacity="0.35" filter="url(#b3)"/>
<path d="M527.7 94.5Q540.7 89.5 553.7 94.5" fill="none" stroke="#bebebe" stroke-width="12" stroke-linecap="round" opacity="0.35" filter="url(#b3)"/>
<path d="M558.0 94.5Q571.0 89.5 584.0 94.5" fill="none" stroke="#bebebe" stroke-width="12" stroke-linecap="round" opacity="0.35" filter="url(#b3)"/>
<path d="M588.6 94.5Q601.6 89.5 614.6 94.5" fill="none" stroke="#bebebe" stroke-width="12" stroke-linecap="round" opacity="0.35" filter="url(#b3)"/>
<path d="M500.2 92.6Q511.2 88.0 522.2 92.6" fill="none" stroke="#161616" stroke-width="7.2" stroke-linecap="round" opacity="1" filter="url(#b2)"/>
<path d="M529.7 94.3Q540.7 88.7 551.7 94.3" fill="none" stroke="#202020" stroke-width="6.2" stroke-linecap="round" opacity="1" filter="url(#b2)"/>
<path d="M559.5 92.6Q571.0 88.0 582.5 92.6" fill="none" stroke="#161616" stroke-width="7.2" stroke-linecap="round" opacity="1" filter="url(#b2)"/>
<path d="M590.1 93.3Q601.6 87.7 613.1 93.3" fill="none" stroke="#2a2a2a" stroke-width="6.2" stroke-linecap="round" opacity="1" filter="url(#b2)"/>
</g>
<rect x="494.70" y="71.90" width="124.30" height="37.80" rx="0.7" fill="none" stroke="#2b2b2b" stroke-width="1.1"/>
<clipPath id="c6"><rect x="494.70" y="114.40" width="124.30" height="41.80" rx="0.7"/></clipPath>
<rect x="494.70" y="114.40" width="124.30" height="41.80" rx="0.7" fill="#aaaaaa"/>
<g clip-path="url(#c6)">
<rect x="494.7" y="111.4" width="124.3" height="11.0" fill="#c3c3c3" opacity="0.7" filter="url(#b4)"/>
<rect x="494.7" y="141.0" width="124.3" height="18.2" fill="#b2b2b2" opacity="0.6" filter="url(#b3)"/>
<path d="M500.2 133.5Q511.2 131.5 522.2 133.5" fill="none" stroke="#878787" stroke-width="10" stroke-linecap="round" opacity="0.75" filter="url(#b3)"/>
<path d="M500.2 139.3Q511.2 136.3 522.2 139.3" fill="none" stroke="#737373" stroke-width="1.5" stroke-linecap="round" opacity="0.6" filter="url(#b1)"/>
<path d="M500.2 146.0Q511.2 144.0 522.2 146.0" fill="none" stroke="#969696" stroke-width="3" stroke-linecap="round" opacity="0.4" filter="url(#b2)"/>
<path d="M529.7 133.5Q540.7 131.5 551.7 133.5" fill="none" stroke="#878787" stroke-width="10" stroke-linecap="round" opacity="0.75" filter="url(#b3)"/>
<path d="M529.7 139.3Q540.7 136.3 551.7 139.3" fill="none" stroke="#737373" stroke-width="1.5" stroke-linecap="round" opacity="0.6" filter="url(#b1)"/>
<path d="M529.7 146.0Q540.7 144.0 551.7 146.0" fill="none" stroke="#969696" stroke-width="3" stroke-linecap="round" opacity="0.4" filter="url(#b2)"/>
<path d="M560.0 133.5Q571.0 131.5 582.0 133.5" fill="none" stroke="#878787" stroke-width="10" stroke-linecap="round" opacity="0.75" filter="url(#b3)"/>
<path d="M560.0 139.3Q571.0 136.3 582.0 139.3" fill="none" stroke="#737373" stroke-width="1.5" stroke-linecap="round" opacity="0.6" filter="url(#b1)"/>
<path d="M560.0 146.0Q571.0 144.0 582.0 146.0" fill="none" stroke="#969696" stroke-width="3" stroke-linecap="round" opacity="0.4" filter="url(#b2)"/>
<path d="M590.6 133.5Q601.6 131.5 612.6 133.5" fill="none" stroke="#878787" stroke-width="10" stroke-linecap="round" opacity="0.75" filter="url(#b3)"/>
<path d="M590.6 139.3Q601.6 136.3 612.6 139.3" fill="none" stroke="#737373" stroke-width="1.5" stroke-linecap="round" opacity="0.6" filter="url(#b1)"/>
<path d="M590.6 146.0Q601.6 144.0 612.6 146.0" fill="none" stroke="#969696" stroke-width="3" stroke-linecap="round" opacity="0.4" filter="url(#b2)"/>
<rect x="524.8" y="108.4" width="3.5" height="53.8" fill="#cdcdcd" opacity="0.6" filter="url(#b2)"/>
<rect x="554.8" y="108.4" width="3.5" height="53.8" fill="#cdcdcd" opacity="0.6" filter="url(#b2)"/>
<rect x="585.8" y="108.4" width="3.5" height="53.8" fill="#cdcdcd" opacity="0.6" filter="url(#b2)"/>
</g>
<rect x="494.70" y="114.40" width="124.30" height="41.80" rx="0.7" fill="none" stroke="#2b2b2b" stroke-width="1.1"/>
<clipPath id="c7"><rect x="631.40" y="71.90" width="126.40" height="38.30" rx="0.7"/></clipPath>
<rect x="631.40" y="71.90" width="126.40" height="38.30" rx="0.7" fill="#fcfcfc"/>
<g clip-path="url(#c7)">
<path d="M635.8 92.0Q648.8 90.0 661.8 92.0" fill="none" stroke="#bebebe" stroke-width="14" stroke-linecap="round" opacity="0.35" filter="url(#b3)"/>
<path d="M666.5 92.0Q679.5 90.0 692.5 92.0" fill="none" stroke="#bebebe" stroke-width="14" stroke-linecap="round" opacity="0.35" filter="url(#b3)"/>
<path d="M697.8 92.0Q710.8 90.0 723.8 92.0" fill="none" stroke="#bebebe" stroke-width="14" stroke-linecap="round" opacity="0.35" filter="url(#b3)"/>
<path d="M728.8 92.0Q741.8 90.0 754.8 92.0" fill="none" stroke="#bebebe" stroke-width="14" stroke-linecap="round" opacity="0.35" filter="url(#b3)"/>
<path d="M638.3 90.8Q648.8 89.2 659.3 90.8" fill="none" stroke="#0f0f0f" stroke-width="9.3" stroke-linecap="round" opacity="1" filter="url(#b2)"/>
<path d="M669.0 90.8Q679.5 89.2 690.0 90.8" fill="none" stroke="#161616" stroke-width="8" stroke-linecap="round" opacity="1" filter="url(#b2)"/>
<path d="M699.3 91.6Q710.8 90.4 722.3 91.6" fill="none" stroke="#161616" stroke-width="8.8" stroke-linecap="round" opacity="1" filter="url(#b2)"/>
<path d="M731.8 90.3Q741.8 89.7 751.8 90.3" fill="none" stroke="#3c3c3c" stroke-width="6" stroke-linecap="round" opacity="1" filter="url(#b2)"/>
</g>
<rect x="631.40" y="71.90" width="126.40" height="38.30" rx="0.7" fill="none" stroke="#2b2b2b" stroke-width="1.1"/>
<clipPath id="c8"><rect x="631.40" y="114.00" width="126.40" height="42.00" rx="0.7"/></clipPath>
<rect x="631.40" y="114.00" width="126.40" height="42.00" rx="0.7" fill="#aaaaaa"/>
<g clip-path="url(#c8)">
<rect x="631.4" y="111.0" width="126.4" height="11.0" fill="#c3c3c3" opacity="0.7" filter="url(#b4)"/>
<rect x="631.4" y="140.0" width="126.4" height="19.0" fill="#b2b2b2" opacity="0.6" filter="url(#b3)"/>
<path d="M637.0 132.3Q648.0 130.7 659.0 132.3" fill="none" stroke="#878787" stroke-width="10" stroke-linecap="round" opacity="0.75" filter="url(#b3)"/>
<path d="M637.0 137.3Q648.0 135.3 659.0 137.3" fill="none" stroke="#707070" stroke-width="1.5" stroke-linecap="round" opacity="0.6" filter="url(#b1)"/>
<path d="M637.0 144.0Q648.0 142.0 659.0 144.0" fill="none" stroke="#969696" stroke-width="3" stroke-linecap="round" opacity="0.4" filter="url(#b2)"/>
<path d="M668.0 132.8Q679.0 131.2 690.0 132.8" fill="none" stroke="#878787" stroke-width="10" stroke-linecap="round" opacity="0.75" filter="url(#b3)"/>
<path d="M668.0 137.8Q679.0 135.8 690.0 137.8" fill="none" stroke="#707070" stroke-width="1.5" stroke-linecap="round" opacity="0.6" filter="url(#b1)"/>
<path d="M668.0 144.5Q679.0 142.5 690.0 144.5" fill="none" stroke="#969696" stroke-width="3" stroke-linecap="round" opacity="0.4" filter="url(#b2)"/>
<path d="M699.0 133.8Q710.0 132.2 721.0 133.8" fill="none" stroke="#878787" stroke-width="10" stroke-linecap="round" opacity="0.75" filter="url(#b3)"/>
<path d="M699.0 138.8Q710.0 136.8 721.0 138.8" fill="none" stroke="#707070" stroke-width="1.5" stroke-linecap="round" opacity="0.6" filter="url(#b1)"/>
<path d="M699.0 145.5Q710.0 143.5 721.0 145.5" fill="none" stroke="#969696" stroke-width="3" stroke-linecap="round" opacity="0.4" filter="url(#b2)"/>
<path d="M730.0 135.3Q741.0 133.7 752.0 135.3" fill="none" stroke="#878787" stroke-width="10" stroke-linecap="round" opacity="0.75" filter="url(#b3)"/>
<path d="M730.0 140.3Q741.0 138.3 752.0 140.3" fill="none" stroke="#707070" stroke-width="1.5" stroke-linecap="round" opacity="0.6" filter="url(#b1)"/>
<path d="M730.0 147.0Q741.0 145.0 752.0 147.0" fill="none" stroke="#969696" stroke-width="3" stroke-linecap="round" opacity="0.4" filter="url(#b2)"/>
<rect x="661.8" y="108.0" width="3.5" height="54.0" fill="#cdcdcd" opacity="0.6" filter="url(#b2)"/>
<rect x="692.8" y="108.0" width="3.5" height="54.0" fill="#cdcdcd" opacity="0.6" filter="url(#b2)"/>
<rect x="724.2" y="108.0" width="3.5" height="54.0" fill="#cdcdcd" opacity="0.6" filter="url(#b2)"/>
</g>
<rect x="631.40" y="114.00" width="126.40" height="42.00" rx="0.7" fill="none" stroke="#2b2b2b" stroke-width="1.1"/>
<clipPath id="c9"><rect x="79.30" y="473.90" width="123.10" height="37.80" rx="0.7"/></clipPath>
<rect x="79.30" y="473.90" width="123.10" height="37.80" rx="0.7" fill="#fdfdfd"/>
<g clip-path="url(#c9)">
<path d="M83.4 492.8Q93.9 492.8 104.4 492.8" fill="none" stroke="#969696" stroke-width="3.4" stroke-linecap="round" opacity="0.85" filter="url(#b2)"/>
<path d="M113.5 492.7Q125.0 492.3 136.5 491.9" fill="none" stroke="#828282" stroke-width="3.4" stroke-linecap="round" opacity="0.9" filter="url(#b2)"/>
<path d="M145.4 492.0Q156.4 492.0 167.4 492.0" fill="none" stroke="#8c8c8c" stroke-width="3.4" stroke-linecap="round" opacity="0.85" filter="url(#b2)"/>
<path d="M176.5 491.9Q187.0 491.3 197.5 490.7" fill="none" stroke="#5f5f5f" stroke-width="3.6" stroke-linecap="round" opacity="0.9" filter="url(#b2)"/>
</g>
<rect x="79.30" y="473.90" width="123.10" height="37.80" rx="0.7" fill="none" stroke="#2b2b2b" stroke-width="1.1"/>
<clipPath id="c10"><rect x="79.30" y="515.00" width="123.10" height="41.70" rx="0.7"/></clipPath>
<rect x="79.30" y="515.00" width="123.10" height="41.70" rx="0.7" fill="#bcbcbc"/>
<g clip-path="url(#c10)">
<rect x="79.3" y="512.0" width="123.1" height="9.0" fill="#c8c8c8" opacity="0.7" filter="url(#b3)"/>
<path d="M83.0 527.8Q94.0 528.5 105.0 529.2" fill="none" stroke="#8e8e8e" stroke-width="11" stroke-linecap="round" opacity="0.72" filter="url(#b3)"/>
<path d="M83.0 541.0Q94.0 541.5 105.0 542.0" fill="none" stroke="#9e9e9e" stroke-width="5" stroke-linecap="round" opacity="0.5" filter="url(#b3)"/>
<path d="M114.0 530.2Q125.0 531.0 136.0 531.8" fill="none" stroke="#8e8e8e" stroke-width="11" stroke-linecap="round" opacity="0.72" filter="url(#b3)"/>
<path d="M114.0 543.5Q125.0 544.0 136.0 544.5" fill="none" stroke="#9e9e9e" stroke-width="5" stroke-linecap="round" opacity="0.5" filter="url(#b3)"/>
<path d="M145.5 530.2Q156.5 531.0 167.5 531.8" fill="none" stroke="#8e8e8e" stroke-width="11" stroke-linecap="round" opacity="0.72" filter="url(#b3)"/>
<path d="M145.5 543.5Q156.5 544.0 167.5 544.5" fill="none" stroke="#9e9e9e" stroke-width="5" stroke-linecap="round" opacity="0.5" filter="url(#b3)"/>
<path d="M176.0 532.2Q187.0 533.0 198.0 533.8" fill="none" stroke="#8e8e8e" stroke-width="11" stroke-linecap="round" opacity="0.72" filter="url(#b3)"/>
<path d="M176.0 545.5Q187.0 546.0 198.0 546.5" fill="none" stroke="#9e9e9e" stroke-width="5" stroke-linecap="round" opacity="0.5" filter="url(#b3)"/>
<rect x="108.2" y="509.0" width="3.5" height="53.7" fill="#d2d2d2" opacity="0.6" filter="url(#b2)"/>
<rect x="139.2" y="509.0" width="3.5" height="53.7" fill="#d2d2d2" opacity="0.6" filter="url(#b2)"/>
<rect x="170.2" y="509.0" width="3.5" height="53.7" fill="#d2d2d2" opacity="0.6" filter="url(#b2)"/>
</g>
<rect x="79.30" y="515.00" width="123.10" height="41.70" rx="0.7" fill="none" stroke="#2b2b2b" stroke-width="1.1"/>
<clipPath id="c11"><rect x="216.20" y="473.10" width="124.40" height="38.30" rx="0.7"/></clipPath>
<rect x="216.20" y="473.10" width="124.40" height="38.30" rx="0.7" fill="#fdfdfd"/>
<g clip-path="url(#c11)">
<path d="M224.5 492.8Q234.5 492.8 244.5 492.8" fill="none" stroke="#2d2d2d" stroke-width="4" stroke-linecap="round" opacity="0.95" filter="url(#b1)"/>
<path d="M253.5 492.5Q264.5 492.0 275.5 491.5" fill="none" stroke="#191919" stroke-width="5" stroke-linecap="round" opacity="0.97" filter="url(#b1)"/>
<path d="M284.0 489.7Q293.5 489.2 303.0 488.7" fill="none" stroke="#8c8c8c" stroke-width="2.8" stroke-linecap="round" opacity="0.85" filter="url(#b1)"/>
<path d="M311.0 489.0Q322.0 488.6 333.0 488.2" fill="none" stroke="#323232" stroke-width="4" stroke-linecap="round" opacity="0.95" filter="url(#b1)"/>
</g>
<rect x="216.20" y="473.10" width="124.40" height="38.30" rx="0.7" fill="none" stroke="#2b2b2b" stroke-width="1.1"/>
<clipPath id="c12"><rect x="216.20" y="515.00" width="124.40" height="41.70" rx="0.7"/></clipPath>
<rect x="216.20" y="515.00" width="124.40" height="41.70" rx="0.7" fill="#bcbcbc"/>
<g clip-path="url(#c12)">
<rect x="216.2" y="512.0" width="124.4" height="9.0" fill="#c8c8c8" opacity="0.7" filter="url(#b3)"/>
<path d="M221.5 536.5Q233.0 533.5 244.5 536.5" fill="none" stroke="#929292" stroke-width="10" stroke-linecap="round" opacity="0.68" filter="url(#b3)"/>
<path d="M222.0 547.5Q233.0 544.5 244.0 547.5" fill="none" stroke="#c8c8c8" stroke-width="8" stroke-linecap="round" opacity="0.45" filter="url(#b3)"/>
<path d="M252.5 537.0Q264.0 534.0 275.5 537.0" fill="none" stroke="#929292" stroke-width="10" stroke-linecap="round" opacity="0.68" filter="url(#b3)"/>
<path d="M253.0 548.0Q264.0 545.0 275.0 548.0" fill="none" stroke="#c8c8c8" stroke-width="8" stroke-linecap="round" opacity="0.45" filter="url(#b3)"/>
<path d="M282.5 533.5Q294.0 530.5 305.5 533.5" fill="none" stroke="#929292" stroke-width="10" stroke-linecap="round" opacity="0.68" filter="url(#b3)"/>
<path d="M283.0 544.5Q294.0 541.5 305.0 544.5" fill="none" stroke="#c8c8c8" stroke-width="8" stroke-linecap="round" opacity="0.45" filter="url(#b3)"/>
<path d="M311.5 529.5Q323.0 526.5 334.5 529.5" fill="none" stroke="#929292" stroke-width="10" stroke-linecap="round" opacity="0.68" filter="url(#b3)"/>
<path d="M312.0 540.5Q323.0 537.5 334.0 540.5" fill="none" stroke="#c8c8c8" stroke-width="8" stroke-linecap="round" opacity="0.45" filter="url(#b3)"/>
<rect x="247.2" y="509.0" width="3.5" height="53.7" fill="#d2d2d2" opacity="0.6" filter="url(#b2)"/>
<rect x="277.8" y="509.0" width="3.5" height="53.7" fill="#d2d2d2" opacity="0.6" filter="url(#b2)"/>
<rect x="306.8" y="509.0" width="3.5" height="53.7" fill="#d2d2d2" opacity="0.6" filter="url(#b2)"/>
</g>
<rect x="216.20" y="515.00" width="124.40" height="41.70" rx="0.7" fill="none" stroke="#2b2b2b" stroke-width="1.1"/>
<clipPath id="c13"><rect x="491.30" y="475.40" width="127.50" height="38.80" rx="0.7"/></clipPath>
<rect x="491.30" y="475.40" width="127.50" height="38.80" rx="0.7" fill="#fafafa"/>
<g clip-path="url(#c13)">
<path d="M497.7 501.6Q508.7 501.6 519.7 501.6" fill="none" stroke="#afafaf" stroke-width="10" stroke-linecap="round" opacity="0.5" filter="url(#b3)"/>
<path d="M497.7 496.6Q508.7 494.6 519.7 496.6" fill="none" stroke="#969696" stroke-width="10" stroke-linecap="round" opacity="0.5" filter="url(#b3)"/>
<path d="M498.2 496.8Q508.7 494.4 519.2 496.8" fill="none" stroke="#1e1e1e" stroke-width="7.5" stroke-linecap="round" opacity="0.97" filter="url(#b2)"/>
<path d="M529.0 501.3Q540.0 501.3 551.0 501.3" fill="none" stroke="#afafaf" stroke-width="10" stroke-linecap="round" opacity="0.5" filter="url(#b3)"/>
<path d="M529.0 496.3Q540.0 494.3 551.0 496.3" fill="none" stroke="#969696" stroke-width="10" stroke-linecap="round" opacity="0.5" filter="url(#b3)"/>
<path d="M529.5 496.5Q540.0 494.1 550.5 496.5" fill="none" stroke="#141414" stroke-width="7.5" stroke-linecap="round" opacity="0.97" filter="url(#b2)"/>
<path d="M560.8 500.0Q571.8 500.0 582.8 500.0" fill="none" stroke="#afafaf" stroke-width="10" stroke-linecap="round" opacity="0.5" filter="url(#b3)"/>
<path d="M560.8 495.0Q571.8 493.0 582.8 495.0" fill="none" stroke="#969696" stroke-width="10" stroke-linecap="round" opacity="0.5" filter="url(#b3)"/>
<path d="M561.3 495.2Q571.8 492.8 582.3 495.2" fill="none" stroke="#1e1e1e" stroke-width="7.5" stroke-linecap="round" opacity="0.97" filter="url(#b2)"/>
<path d="M591.8 502.0Q602.8 502.0 613.8 502.0" fill="none" stroke="#afafaf" stroke-width="10" stroke-linecap="round" opacity="0.5" filter="url(#b3)"/>
<path d="M591.8 497.0Q602.8 495.0 613.8 497.0" fill="none" stroke="#969696" stroke-width="10" stroke-linecap="round" opacity="0.5" filter="url(#b3)"/>
<path d="M592.3 497.2Q602.8 494.8 613.3 497.2" fill="none" stroke="#080808" stroke-width="7.5" stroke-linecap="round" opacity="0.97" filter="url(#b2)"/>
</g>
<rect x="491.30" y="475.40" width="127.50" height="38.80" rx="0.7" fill="none" stroke="#2b2b2b" stroke-width="1.1"/>
<clipPath id="c14"><rect x="491.30" y="517.30" width="127.50" height="42.90" rx="0.7"/></clipPath>
<rect x="491.30" y="517.30" width="127.50" height="42.90" rx="0.7" fill="#bebebe"/>
<g clip-path="url(#c14)">
<path d="M497.7 532.0Q508.7 526.0 519.7 532.0" fill="none" stroke="#969696" stroke-width="4" stroke-linecap="round" opacity="0.7" filter="url(#b2)"/>
<path d="M497.7 548.5Q508.7 542.5 519.7 548.5" fill="none" stroke="#9b9b9b" stroke-width="4" stroke-linecap="round" opacity="0.6" filter="url(#b2)"/>
<path d="M498.7 539.0Q508.7 535.0 518.7 539.0" fill="none" stroke="#acacac" stroke-width="8" stroke-linecap="round" opacity="0.45" filter="url(#b3)"/>
<path d="M529.0 532.0Q540.0 526.0 551.0 532.0" fill="none" stroke="#969696" stroke-width="4" stroke-linecap="round" opacity="0.7" filter="url(#b2)"/>
<path d="M529.0 548.5Q540.0 542.5 551.0 548.5" fill="none" stroke="#9b9b9b" stroke-width="4" stroke-linecap="round" opacity="0.6" filter="url(#b2)"/>
<path d="M530.0 539.0Q540.0 535.0 550.0 539.0" fill="none" stroke="#acacac" stroke-width="8" stroke-linecap="round" opacity="0.45" filter="url(#b3)"/>
<path d="M560.8 532.0Q571.8 526.0 582.8 532.0" fill="none" stroke="#969696" stroke-width="4" stroke-linecap="round" opacity="0.7" filter="url(#b2)"/>
<path d="M560.8 548.5Q571.8 542.5 582.8 548.5" fill="none" stroke="#9b9b9b" stroke-width="4" stroke-linecap="round" opacity="0.6" filter="url(#b2)"/>
<path d="M561.8 539.0Q571.8 535.0 581.8 539.0" fill="none" stroke="#acacac" stroke-width="8" stroke-linecap="round" opacity="0.45" filter="url(#b3)"/>
<path d="M591.8 532.0Q602.8 526.0 613.8 532.0" fill="none" stroke="#969696" stroke-width="4" stroke-linecap="round" opacity="0.7" filter="url(#b2)"/>
<path d="M591.8 548.5Q602.8 542.5 613.8 548.5" fill="none" stroke="#9b9b9b" stroke-width="4" stroke-linecap="round" opacity="0.6" filter="url(#b2)"/>
<path d="M592.8 539.0Q602.8 535.0 612.8 539.0" fill="none" stroke="#acacac" stroke-width="8" stroke-linecap="round" opacity="0.45" filter="url(#b3)"/>
<rect x="522.8" y="511.3" width="3.5" height="54.9" fill="#d0d0d0" opacity="0.5" filter="url(#b2)"/>
<rect x="554.2" y="511.3" width="3.5" height="54.9" fill="#d0d0d0" opacity="0.5" filter="url(#b2)"/>
<rect x="585.8" y="511.3" width="3.5" height="54.9" fill="#d0d0d0" opacity="0.5" filter="url(#b2)"/>
</g>
<rect x="491.30" y="517.30" width="127.50" height="42.90" rx="0.7" fill="none" stroke="#2b2b2b" stroke-width="1.1"/>
<clipPath id="c15"><rect x="631.40" y="475.40" width="126.40" height="38.50" rx="0.7"/></clipPath>
<rect x="631.40" y="475.40" width="126.40" height="38.50" rx="0.7" fill="#fafafa"/>
<g clip-path="url(#c15)">
<path d="M637.0 499.0Q648.0 499.0 659.0 499.0" fill="none" stroke="#bebebe" stroke-width="10" stroke-linecap="round" opacity="0.45" filter="url(#b3)"/>
<path d="M667.5 499.0Q678.5 499.0 689.5 499.0" fill="none" stroke="#b9b9b9" stroke-width="10" stroke-linecap="round" opacity="0.45" filter="url(#b3)"/>
<path d="M697.5 493.0Q708.5 493.0 719.5 493.0" fill="none" stroke="#c8c8c8" stroke-width="10" stroke-linecap="round" opacity="0.4" filter="url(#b3)"/>
<path d="M730.0 490.8Q741.0 488.7 752.0 487.8" fill="none" stroke="#b4b4b4" stroke-width="11" stroke-linecap="round" opacity="0.4" filter="url(#b3)"/>
<path d="M638.0 496.3Q648.0 494.3 658.0 496.3" fill="none" stroke="#232323" stroke-width="7.5" stroke-linecap="round" opacity="0.95" filter="url(#b2)"/>
<path d="M668.5 494.8Q678.5 493.2 688.5 494.8" fill="none" stroke="#050505" stroke-width="9" stroke-linecap="round" opacity="1" filter="url(#b1)"/>
<path d="M698.5 492.2Q708.5 491.2 718.5 492.2" fill="none" stroke="#646464" stroke-width="7" stroke-linecap="round" opacity="0.85" filter="url(#b2)"/>
<path d="M730.0 489.3Q741.0 487.2 752.0 486.3" fill="none" stroke="#050505" stroke-width="8.5" stroke-linecap="round" opacity="1" filter="url(#b1)"/>
</g>
<rect x="631.40" y="475.40" width="126.40" height="38.50" rx="0.7" fill="none" stroke="#2b2b2b" stroke-width="1.1"/>
<clipPath id="c16"><rect x="631.40" y="517.00" width="126.40" height="43.00" rx="0.7"/></clipPath>
<rect x="631.40" y="517.00" width="126.40" height="43.00" rx="0.7" fill="#bebebe"/>
<g clip-path="url(#c16)">
<path d="M637.0 532.5Q648.0 529.5 659.0 532.5" fill="none" stroke="#9b9b9b" stroke-width="4" stroke-linecap="round" opacity="0.65" filter="url(#b2)"/>
<path d="M637.0 548.5Q648.0 545.5 659.0 548.5" fill="none" stroke="#a5a5a5" stroke-width="4" stroke-linecap="round" opacity="0.5" filter="url(#b2)"/>
<path d="M667.5 532.0Q678.5 529.0 689.5 532.0" fill="none" stroke="#9b9b9b" stroke-width="4" stroke-linecap="round" opacity="0.65" filter="url(#b2)"/>
<path d="M667.5 548.0Q678.5 545.0 689.5 548.0" fill="none" stroke="#a5a5a5" stroke-width="4" stroke-linecap="round" opacity="0.5" filter="url(#b2)"/>
<path d="M698.0 532.5Q709.0 529.5 720.0 532.5" fill="none" stroke="#9b9b9b" stroke-width="4" stroke-linecap="round" opacity="0.65" filter="url(#b2)"/>
<path d="M698.0 548.5Q709.0 545.5 720.0 548.5" fill="none" stroke="#a5a5a5" stroke-width="4" stroke-linecap="round" opacity="0.5" filter="url(#b2)"/>
<path d="M730.0 528.5Q741.0 525.5 752.0 528.5" fill="none" stroke="#9b9b9b" stroke-width="4" stroke-linecap="round" opacity="0.65" filter="url(#b2)"/>
<path d="M730.0 544.5Q741.0 541.5 752.0 544.5" fill="none" stroke="#a5a5a5" stroke-width="4" stroke-linecap="round" opacity="0.5" filter="url(#b2)"/>
<rect x="661.2" y="511.0" width="3.5" height="55.0" fill="#d0d0d0" opacity="0.45" filter="url(#b2)"/>
<rect x="692.2" y="511.0" width="3.5" height="55.0" fill="#d0d0d0" opacity="0.45" filter="url(#b2)"/>
<rect x="723.2" y="511.0" width="3.5" height="55.0" fill="#d0d0d0" opacity="0.45" filter="url(#b2)"/>
</g>
<rect x="631.40" y="517.00" width="126.40" height="43.00" rx="0.7" fill="none" stroke="#2b2b2b" stroke-width="1.1"/>
<clipPath id="c17"><rect x="79.70" y="916.30" width="124.80" height="38.00" rx="0.7"/></clipPath>
<rect x="79.70" y="916.30" width="124.80" height="38.00" rx="0.7" fill="#fdfdfd"/>
<g clip-path="url(#c17)">
<path d="M86.2 932.6Q96.7 933.1 107.2 933.6" fill="none" stroke="#555555" stroke-width="4" stroke-linecap="round" opacity="0.9" filter="url(#b1)"/>
<path d="M116.5 934.1Q126.5 934.4 136.5 934.6" fill="none" stroke="#969696" stroke-width="3.5" stroke-linecap="round" opacity="0.85" filter="url(#b1)"/>
<path d="M145.0 934.9Q156.0 935.2 167.0 935.5" fill="none" stroke="#191919" stroke-width="5" stroke-linecap="round" opacity="0.97" filter="url(#b1)"/>
<path d="M176.8 935.7Q187.8 936.0 198.8 936.3" fill="none" stroke="#a0a0a0" stroke-width="3.5" stroke-linecap="round" opacity="0.85" filter="url(#b1)"/>
</g>
<rect x="79.70" y="916.30" width="124.80" height="38.00" rx="0.7" fill="none" stroke="#2b2b2b" stroke-width="1.1"/>
<clipPath id="c18"><rect x="80.90" y="957.50" width="123.60" height="41.90" rx="0.7"/></clipPath>
<rect x="80.90" y="957.50" width="123.60" height="41.90" rx="0.7" fill="#cbcbcb"/>
<g clip-path="url(#c18)">
<path d="M91.0 973.8Q101.0 974.0 111.0 974.2" fill="none" stroke="#8c8c8c" stroke-width="3.5" stroke-linecap="round" opacity="0.8" filter="url(#b1)"/>
<path d="M91.0 989.9Q101.0 990.0 111.0 990.1" fill="none" stroke="#a5a5a5" stroke-width="2.5" stroke-linecap="round" opacity="0.7" filter="url(#b1)"/>
<path d="M91.0 965.0Q101.0 965.0 111.0 965.0" fill="none" stroke="#b4b4b4" stroke-width="2.5" stroke-linecap="round" opacity="0.5" filter="url(#b1)"/>
<path d="M121.0 975.2Q131.0 975.5 141.0 975.8" fill="none" stroke="#8c8c8c" stroke-width="3.5" stroke-linecap="round" opacity="0.8" filter="url(#b1)"/>
<path d="M121.0 991.4Q131.0 991.5 141.0 991.6" fill="none" stroke="#a5a5a5" stroke-width="2.5" stroke-linecap="round" opacity="0.7" filter="url(#b1)"/>
<path d="M121.0 966.5Q131.0 966.5 141.0 966.5" fill="none" stroke="#b4b4b4" stroke-width="2.5" stroke-linecap="round" opacity="0.5" filter="url(#b1)"/>
<path d="M151.0 973.8Q161.0 974.0 171.0 974.2" fill="none" stroke="#8c8c8c" stroke-width="3.5" stroke-linecap="round" opacity="0.8" filter="url(#b1)"/>
<path d="M151.0 989.9Q161.0 990.0 171.0 990.1" fill="none" stroke="#a5a5a5" stroke-width="2.5" stroke-linecap="round" opacity="0.7" filter="url(#b1)"/>
<path d="M151.0 965.0Q161.0 965.0 171.0 965.0" fill="none" stroke="#b4b4b4" stroke-width="2.5" stroke-linecap="round" opacity="0.5" filter="url(#b1)"/>
<path d="M179.5 972.8Q189.5 973.0 199.5 973.2" fill="none" stroke="#8c8c8c" stroke-width="3.5" stroke-linecap="round" opacity="0.8" filter="url(#b1)"/>
<path d="M179.5 988.9Q189.5 989.0 199.5 989.1" fill="none" stroke="#a5a5a5" stroke-width="2.5" stroke-linecap="round" opacity="0.7" filter="url(#b1)"/>
<path d="M179.5 964.0Q189.5 964.0 199.5 964.0" fill="none" stroke="#b4b4b4" stroke-width="2.5" stroke-linecap="round" opacity="0.5" filter="url(#b1)"/>
</g>
<rect x="80.90" y="957.50" width="123.60" height="41.90" rx="0.7" fill="none" stroke="#2b2b2b" stroke-width="1.1"/>
<clipPath id="c19"><rect x="217.10" y="916.30" width="124.80" height="38.20" rx="0.7"/></clipPath>
<rect x="217.10" y="916.30" width="124.80" height="38.20" rx="0.7" fill="#fdfdfd"/>
<g clip-path="url(#c19)">
<path d="M225.5 935.2Q236.5 935.2 247.5 935.2" fill="none" stroke="#161616" stroke-width="5" stroke-linecap="round" opacity="0.97" filter="url(#b1)"/>
<path d="M255.8 935.2Q266.3 933.6 276.8 935.2" fill="none" stroke="#232323" stroke-width="4" stroke-linecap="round" opacity="0.95" filter="url(#b1)"/>
<path d="M284.5 934.1Q295.5 933.3 306.5 934.1" fill="none" stroke="#161616" stroke-width="4.5" stroke-linecap="round" opacity="0.97" filter="url(#b1)"/>
<path d="M314.8 933.7Q325.3 932.7 335.8 933.7" fill="none" stroke="#323232" stroke-width="3.5" stroke-linecap="round" opacity="0.93" filter="url(#b1)"/>
</g>
<rect x="217.10" y="916.30" width="124.80" height="38.20" rx="0.7" fill="none" stroke="#2b2b2b" stroke-width="1.1"/>
<clipPath id="c20"><rect x="217.70" y="957.50" width="123.80" height="41.90" rx="0.7"/></clipPath>
<rect x="217.70" y="957.50" width="123.80" height="41.90" rx="0.7" fill="#cbcbcb"/>
<g clip-path="url(#c20)">
<path d="M225.5 970.5Q236.0 971.0 246.5 971.5" fill="none" stroke="#969696" stroke-width="3.5" stroke-linecap="round" opacity="0.8" filter="url(#b1)"/>
<path d="M225.5 989.0Q236.0 989.5 246.5 990.0" fill="none" stroke="#a5a5a5" stroke-width="2.8" stroke-linecap="round" opacity="0.7" filter="url(#b1)"/>
<path d="M226.0 963.0Q236.0 963.0 246.0 963.0" fill="none" stroke="#b9b9b9" stroke-width="2.5" stroke-linecap="round" opacity="0.5" filter="url(#b1)"/>
<path d="M254.5 971.5Q265.0 972.0 275.5 972.5" fill="none" stroke="#969696" stroke-width="3.5" stroke-linecap="round" opacity="0.8" filter="url(#b1)"/>
<path d="M254.5 990.0Q265.0 990.5 275.5 991.0" fill="none" stroke="#a5a5a5" stroke-width="2.8" stroke-linecap="round" opacity="0.7" filter="url(#b1)"/>
<path d="M255.0 964.0Q265.0 964.0 275.0 964.0" fill="none" stroke="#b9b9b9" stroke-width="2.5" stroke-linecap="round" opacity="0.5" filter="url(#b1)"/>
<path d="M284.0 972.5Q294.5 973.0 305.0 973.5" fill="none" stroke="#969696" stroke-width="3.5" stroke-linecap="round" opacity="0.8" filter="url(#b1)"/>
<path d="M284.0 991.0Q294.5 991.5 305.0 992.0" fill="none" stroke="#a5a5a5" stroke-width="2.8" stroke-linecap="round" opacity="0.7" filter="url(#b1)"/>
<path d="M284.5 965.0Q294.5 965.0 304.5 965.0" fill="none" stroke="#b9b9b9" stroke-width="2.5" stroke-linecap="round" opacity="0.5" filter="url(#b1)"/>
<path d="M314.0 973.8Q324.5 974.3 335.0 974.8" fill="none" stroke="#969696" stroke-width="3.5" stroke-linecap="round" opacity="0.8" filter="url(#b1)"/>
<path d="M314.0 992.3Q324.5 992.8 335.0 993.3" fill="none" stroke="#a5a5a5" stroke-width="2.8" stroke-linecap="round" opacity="0.7" filter="url(#b1)"/>
<path d="M314.5 966.3Q324.5 966.3 334.5 966.3" fill="none" stroke="#b9b9b9" stroke-width="2.5" stroke-linecap="round" opacity="0.5" filter="url(#b1)"/>
</g>
<rect x="217.70" y="957.50" width="123.80" height="41.90" rx="0.7" fill="none" stroke="#2b2b2b" stroke-width="1.1"/>
<clipPath id="c21"><rect x="495.40" y="916.70" width="124.80" height="38.30" rx="0.7"/></clipPath>
<rect x="495.40" y="916.70" width="124.80" height="38.30" rx="0.7" fill="#fdfdfd"/>
<g clip-path="url(#c21)">
<path d="M501.5 937.1Q512.5 937.1 523.5 937.1" fill="none" stroke="#4b4b4b" stroke-width="4.5" stroke-linecap="round" opacity="0.92" filter="url(#b1)"/>
<path d="M532.5 937.4Q542.5 937.4 552.5 937.4" fill="none" stroke="#969696" stroke-width="3.2" stroke-linecap="round" opacity="0.85" filter="url(#b1)"/>
<path d="M561.0 937.1Q572.0 937.1 583.0 937.1" fill="none" stroke="#373737" stroke-width="4.8" stroke-linecap="round" opacity="0.95" filter="url(#b1)"/>
<path d="M591.5 937.0Q602.5 937.0 613.5 937.0" fill="none" stroke="#5a5a5a" stroke-width="3.8" stroke-linecap="round" opacity="0.9" filter="url(#b1)"/>
</g>
<rect x="495.40" y="916.70" width="124.80" height="38.30" rx="0.7" fill="none" stroke="#2b2b2b" stroke-width="1.1"/>
<clipPath id="c22"><rect x="495.90" y="958.40" width="123.90" height="42.80" rx="0.7"/></clipPath>
<rect x="495.90" y="958.40" width="123.90" height="42.80" rx="0.7" fill="#c6c6c6"/>
<g clip-path="url(#c22)">
<path d="M502.0 973.5Q512.5 973.8 523.0 974.1" fill="none" stroke="#878787" stroke-width="4" stroke-linecap="round" opacity="0.8" filter="url(#b1)"/>
<path d="M502.5 989.2Q512.5 989.5 522.5 989.8" fill="none" stroke="#a5a5a5" stroke-width="2.5" stroke-linecap="round" opacity="0.65" filter="url(#b1)"/>
<path d="M502.5 965.0Q512.5 965.0 522.5 965.0" fill="none" stroke="#b4b4b4" stroke-width="2.5" stroke-linecap="round" opacity="0.5" filter="url(#b1)"/>
<path d="M532.0 973.5Q542.5 973.8 553.0 974.1" fill="none" stroke="#878787" stroke-width="4" stroke-linecap="round" opacity="0.8" filter="url(#b1)"/>
<path d="M532.5 989.2Q542.5 989.5 552.5 989.8" fill="none" stroke="#a5a5a5" stroke-width="2.5" stroke-linecap="round" opacity="0.65" filter="url(#b1)"/>
<path d="M532.5 965.0Q542.5 965.0 552.5 965.0" fill="none" stroke="#b4b4b4" stroke-width="2.5" stroke-linecap="round" opacity="0.5" filter="url(#b1)"/>
<path d="M562.0 973.5Q572.5 973.8 583.0 974.1" fill="none" stroke="#878787" stroke-width="4" stroke-linecap="round" opacity="0.8" filter="url(#b1)"/>
<path d="M562.5 989.2Q572.5 989.5 582.5 989.8" fill="none" stroke="#a5a5a5" stroke-width="2.5" stroke-linecap="round" opacity="0.65" filter="url(#b1)"/>
<path d="M562.5 965.0Q572.5 965.0 582.5 965.0" fill="none" stroke="#b4b4b4" stroke-width="2.5" stroke-linecap="round" opacity="0.5" filter="url(#b1)"/>
<path d="M592.0 973.5Q602.5 973.8 613.0 974.1" fill="none" stroke="#878787" stroke-width="4" stroke-linecap="round" opacity="0.8" filter="url(#b1)"/>
<path d="M592.5 989.2Q602.5 989.5 612.5 989.8" fill="none" stroke="#a5a5a5" stroke-width="2.5" stroke-linecap="round" opacity="0.65" filter="url(#b1)"/>
<path d="M592.5 965.0Q602.5 965.0 612.5 965.0" fill="none" stroke="#b4b4b4" stroke-width="2.5" stroke-linecap="round" opacity="0.5" filter="url(#b1)"/>
<rect x="526.0" y="952.4" width="3" height="54.8" fill="#d7d7d7" opacity="0.45" filter="url(#b2)"/>
<rect x="556.0" y="952.4" width="3" height="54.8" fill="#d7d7d7" opacity="0.45" filter="url(#b2)"/>
<rect x="586.0" y="952.4" width="3" height="54.8" fill="#d7d7d7" opacity="0.45" filter="url(#b2)"/>
</g>
<rect x="495.90" y="958.40" width="123.90" height="42.80" rx="0.7" fill="none" stroke="#2b2b2b" stroke-width="1.1"/>
<clipPath id="c23"><rect x="632.70" y="916.70" width="125.00" height="38.30" rx="0.7"/></clipPath>
<rect x="632.70" y="916.70" width="125.00" height="38.30" rx="0.7" fill="#fdfdfd"/>
<g clip-path="url(#c23)">
<path d="M640.0 934.8Q650.5 933.8 661.0 934.8" fill="none" stroke="#505050" stroke-width="3.8" stroke-linecap="round" opacity="0.9" filter="url(#b1)"/>
<path d="M669.5 934.3Q680.5 934.3 691.5 934.3" fill="none" stroke="#121212" stroke-width="5" stroke-linecap="round" opacity="0.97" filter="url(#b1)"/>
<path d="M699.8 933.5Q710.3 932.5 720.8 933.5" fill="none" stroke="#505050" stroke-width="3.6" stroke-linecap="round" opacity="0.9" filter="url(#b1)"/>
<path d="M729.5 934.4Q740.5 933.6 751.5 934.4" fill="none" stroke="#282828" stroke-width="4" stroke-linecap="round" opacity="0.95" filter="url(#b1)"/>
</g>
<rect x="632.70" y="916.70" width="125.00" height="38.30" rx="0.7" fill="none" stroke="#2b2b2b" stroke-width="1.1"/>
<clipPath id="c24"><rect x="632.70" y="958.40" width="124.30" height="42.00" rx="0.7"/></clipPath>
<rect x="632.70" y="958.40" width="124.30" height="42.00" rx="0.7" fill="#c8c8c8"/>
<g clip-path="url(#c24)">
<path d="M641.5 969.1Q651.0 969.7 660.5 970.4" fill="none" stroke="#919191" stroke-width="3.2" stroke-linecap="round" opacity="0.8" filter="url(#b1)"/>
<path d="M641.5 986.6Q651.0 987.2 660.5 987.9" fill="none" stroke="#a0a0a0" stroke-width="2.6" stroke-linecap="round" opacity="0.7" filter="url(#b1)"/>
<path d="M642.0 961.7Q651.0 961.7 660.0 961.7" fill="none" stroke="#b9b9b9" stroke-width="2.5" stroke-linecap="round" opacity="0.4" filter="url(#b1)"/>
<path d="M669.5 971.4Q679.0 972.0 688.5 972.6" fill="none" stroke="#919191" stroke-width="3.2" stroke-linecap="round" opacity="0.8" filter="url(#b1)"/>
<path d="M669.5 988.9Q679.0 989.5 688.5 990.1" fill="none" stroke="#a0a0a0" stroke-width="2.6" stroke-linecap="round" opacity="0.7" filter="url(#b1)"/>
<path d="M670.0 964.0Q679.0 964.0 688.0 964.0" fill="none" stroke="#b9b9b9" stroke-width="2.5" stroke-linecap="round" opacity="0.4" filter="url(#b1)"/>
<path d="M698.5 971.4Q708.0 972.0 717.5 972.6" fill="none" stroke="#919191" stroke-width="3.2" stroke-linecap="round" opacity="0.8" filter="url(#b1)"/>
<path d="M698.5 988.9Q708.0 989.5 717.5 990.1" fill="none" stroke="#a0a0a0" stroke-width="2.6" stroke-linecap="round" opacity="0.7" filter="url(#b1)"/>
<path d="M699.0 964.0Q708.0 964.0 717.0 964.0" fill="none" stroke="#b9b9b9" stroke-width="2.5" stroke-linecap="round" opacity="0.4" filter="url(#b1)"/>
<path d="M728.0 971.9Q737.5 972.5 747.0 973.1" fill="none" stroke="#919191" stroke-width="3.2" stroke-linecap="round" opacity="0.8" filter="url(#b1)"/>
<path d="M728.0 989.4Q737.5 990.0 747.0 990.6" fill="none" stroke="#a0a0a0" stroke-width="2.6" stroke-linecap="round" opacity="0.7" filter="url(#b1)"/>
<path d="M728.5 964.5Q737.5 964.5 746.5 964.5" fill="none" stroke="#b9b9b9" stroke-width="2.5" stroke-linecap="round" opacity="0.4" filter="url(#b1)"/>
<rect x="663.5" y="952.4" width="3" height="54.0" fill="#d7d7d7" opacity="0.4" filter="url(#b2)"/>
<rect x="692.5" y="952.4" width="3" height="54.0" fill="#d7d7d7" opacity="0.4" filter="url(#b2)"/>
<rect x="721.5" y="952.4" width="3" height="54.0" fill="#d7d7d7" opacity="0.4" filter="url(#b2)"/>
</g>
<rect x="632.70" y="958.40" width="124.30" height="42.00" rx="0.7" fill="none" stroke="#2b2b2b" stroke-width="1.1"/>
</g>
</svg>
</body></html>
